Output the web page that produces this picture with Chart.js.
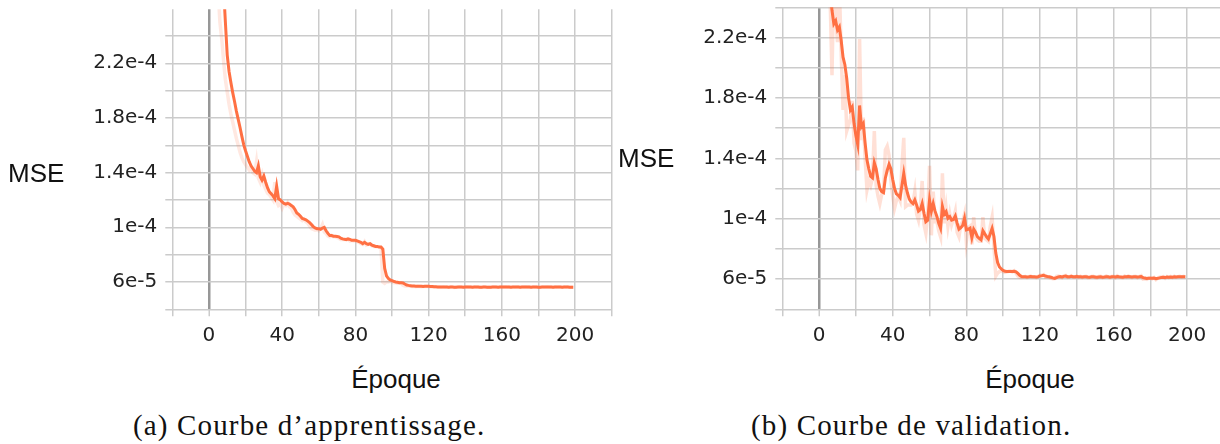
<!DOCTYPE html>
<html>
<head>
<meta charset="utf-8">
<script src="https://cdn.jsdelivr.net/npm/chart.js@4.4.1/dist/chart.umd.min.js"></script>
<style>
  html, body { margin: 0; padding: 0; background: #fff; }
  body { width: 1220px; height: 444px; overflow: hidden; position: relative; }
  .box { position: absolute; top: 0; height: 350px; }
  .lbl { position: absolute; font-family: "Liberation Sans", Arial, sans-serif; font-size: 26px; line-height: 26px; color: #111; white-space: nowrap; }
  .cap { position: absolute; font-family: "Liberation Serif", "Times New Roman", serif; font-size: 29px; line-height: 29px; color: #111; white-space: nowrap; letter-spacing: 1.15px; }
</style>
</head>
<body>
<div class="box" style="left:0;width:616px"><canvas id="trainChart"></canvas></div>
<div class="box" style="left:610px;width:620px"><canvas id="valChart"></canvas></div>

<div class="lbl" style="left:8px;top:160px">MSE</div>
<div class="lbl" style="left:618px;top:145px">MSE</div>
<div class="lbl" style="left:296px;top:366px;width:200px;text-align:center">Époque</div>
<div class="lbl" style="left:930px;top:366px;width:200px;text-align:center">Époque</div>
<div class="cap" style="left:133px;top:411px">(a) Courbe d’apprentissage.</div>
<div class="cap" style="left:751px;top:411px">(b) Courbe de validation.</div>

<script>
// ---- categories (epochs) ----
const epochs = [
  0,1,2,3,4,5,6,7,8,9,10,11,12,13,14,15,16,17,18,19,
  20,21,22,23,24,25,26,27,28,29,30,31,32,33,34,35,36,37,38,39,
  40,41,42,43,44,45,46,47,48,49,50,51,52,53,54,55,56,57,58,59,
  60,61,62,63,64,65,66,67,68,69,70,71,72,73,74,75,76,77,78,79,
  80,81,82,83,84,85,86,87,88,89,90,91,92,93,94,95,96,97,98,99,
  100,101,102,103,104,105,106,107,108,109,110,111,112,113,114,115,116,117,118,119,
  120,121,122,123,124,125,126,127,128,129,130,131,132,133,134,135,136,137,138,139,
  140,141,142,143,144,145,146,147,148,149,150,151,152,153,154,155,156,157,158,159,
  160,161,162,163,164,165,166,167,168,169,170,171,172,173,174,175,176,177,178,179,
  180,181,182,183,184,185,186,187,188,189,190,191,192,193,194,195,196,197,198,199
];

// ---- training MSE: smoothed and raw ----
const trainSmoothed = [
  95e-5,76e-5,63e-5,53e-5,45e-5,39e-5,34e-5,30.5e-5,27.5e-5,25e-5,
  22.6e-5,21.4e-5,20.6e-5,19.85e-5,19.2e-5,18.5e-5,17.9e-5,17.3e-5,16.65e-5,16.05e-5,
  15.6e-5,15.2e-5,14.8e-5,14.5e-5,14.3e-5,14.1e-5,14.0e-5,14.5e-5,13.7e-5,13.45e-5,
  13.75e-5,13.3e-5,12.9e-5,12.6e-5,12.45e-5,12.3e-5,12.1e-5,13.0e-5,12.1e-5,12.0e-5,
  11.85e-5,11.75e-5,11.7e-5,11.75e-5,11.7e-5,11.6e-5,11.5e-5,11.3e-5,11.05e-5,10.95e-5,
  10.8e-5,10.65e-5,10.6e-5,10.55e-5,10.45e-5,10.35e-5,10.2e-5,10.05e-5,9.95e-5,9.9e-5,
  9.9e-5,9.85e-5,9.95e-5,10.0e-5,9.75e-5,9.55e-5,9.4e-5,9.4e-5,9.35e-5,9.35e-5,
  9.33e-5,9.3e-5,9.2e-5,9.15e-5,9.12e-5,9.1e-5,9.15e-5,9.12e-5,9.05e-5,9.05e-5,
  9.05e-5,9.0e-5,8.95e-5,8.9e-5,8.8e-5,8.9e-5,8.8e-5,8.75e-5,8.8e-5,8.7e-5,
  8.65e-5,8.6e-5,8.6e-5,8.55e-5,8.55e-5,8.4e-5,7.0e-5,6.45e-5,6.25e-5,6.15e-5,
  6.1e-5,6.05e-5,6.0e-5,5.98e-5,5.95e-5,5.94e-5,5.93e-5,5.85e-5,5.78e-5,5.75e-5,
  5.73e-5,5.71e-5,5.7e-5,5.69e-5,5.69e-5,5.68e-5,5.68e-5,5.67e-5,5.68e-5,5.68e-5,
  5.68e-5,5.67e-5,5.66e-5,5.65e-5,5.65e-5,5.64e-5,5.64e-5,5.64e-5,5.63e-5,5.63e-5,
  5.63e-5,5.62e-5,5.63e-5,5.63e-5,5.62e-5,5.62e-5,5.63e-5,5.63e-5,5.63e-5,5.62e-5,
  5.63e-5,5.64e-5,5.63e-5,5.63e-5,5.62e-5,5.63e-5,5.63e-5,5.63e-5,5.62e-5,5.62e-5,
  5.63e-5,5.63e-5,5.62e-5,5.62e-5,5.62e-5,5.63e-5,5.63e-5,5.63e-5,5.62e-5,5.63e-5,
  5.63e-5,5.63e-5,5.64e-5,5.63e-5,5.63e-5,5.62e-5,5.63e-5,5.63e-5,5.63e-5,5.63e-5,
  5.62e-5,5.63e-5,5.63e-5,5.64e-5,5.63e-5,5.63e-5,5.62e-5,5.63e-5,5.63e-5,5.63e-5,
  5.62e-5,5.62e-5,5.63e-5,5.63e-5,5.63e-5,5.64e-5,5.63e-5,5.63e-5,5.62e-5,5.63e-5,
  5.63e-5,5.63e-5,5.63e-5,5.62e-5,5.63e-5,5.63e-5,5.63e-5,5.62e-5,5.62e-5,5.62e-5
];
const trainRaw = [
  80e-5,60e-5,48e-5,39e-5,33e-5,27.5e-5,25e-5,23.8e-5,22.2e-5,20.8e-5,
  19.9e-5,19.0e-5,18.3e-5,17.7e-5,17.1e-5,16.5e-5,16.0e-5,15.5e-5,15.1e-5,14.8e-5,
  14.6e-5,14.4e-5,14.2e-5,14.4e-5,14.0e-5,13.9e-5,14.8e-5,13.6e-5,13.3e-5,13.8e-5,
  13.1e-5,12.8e-5,12.5e-5,12.4e-5,12.2e-5,12.0e-5,13.3e-5,11.9e-5,11.6e-5,11.7e-5,
  11.4e-5,11.7e-5,11.6e-5,11.8e-5,11.5e-5,11.4e-5,11.1e-5,10.9e-5,10.8e-5,10.7e-5,
  10.6e-5,10.5e-5,10.6e-5,10.4e-5,10.3e-5,10.1e-5,9.9e-5,9.85e-5,9.8e-5,9.85e-5,
  9.75e-5,9.9e-5,10.2e-5,9.65e-5,9.55e-5,9.35e-5,9.3e-5,9.4e-5,9.3e-5,9.3e-5,
  9.25e-5,9.2e-5,9.1e-5,9.1e-5,9.1e-5,9.15e-5,9.1e-5,9.0e-5,9.05e-5,9.0e-5,
  9.0e-5,8.95e-5,8.9e-5,8.8e-5,8.75e-5,8.95e-5,8.7e-5,8.75e-5,8.8e-5,8.65e-5,
  8.6e-5,8.6e-5,8.55e-5,8.55e-5,8.5e-5,6.0e-5,5.9e-5,6.0e-5,6.0e-5,6.05e-5,
  6.0e-5,5.95e-5,5.95e-5,5.9e-5,5.92e-5,5.9e-5,5.75e-5,5.7e-5,5.7e-5,5.7e-5,
  5.68e-5,5.67e-5,5.69e-5,5.66e-5,5.68e-5,5.67e-5,5.66e-5,5.69e-5,5.67e-5,5.66e-5,
  5.66e-5,5.65e-5,5.64e-5,5.65e-5,5.63e-5,5.64e-5,5.63e-5,5.62e-5,5.64e-5,5.62e-5,
  5.63e-5,5.61e-5,5.64e-5,5.63e-5,5.60e-5,5.63e-5,5.62e-5,5.65e-5,5.62e-5,5.61e-5,
  5.64e-5,5.65e-5,5.62e-5,5.63e-5,5.61e-5,5.64e-5,5.62e-5,5.63e-5,5.61e-5,5.62e-5,
  5.64e-5,5.62e-5,5.61e-5,5.63e-5,5.61e-5,5.64e-5,5.63e-5,5.62e-5,5.61e-5,5.64e-5,
  5.62e-5,5.64e-5,5.65e-5,5.62e-5,5.63e-5,5.61e-5,5.64e-5,5.62e-5,5.63e-5,5.64e-5,
  5.61e-5,5.63e-5,5.64e-5,5.65e-5,5.62e-5,5.63e-5,5.61e-5,5.64e-5,5.62e-5,5.63e-5,
  5.61e-5,5.62e-5,5.64e-5,5.62e-5,5.64e-5,5.65e-5,5.62e-5,5.63e-5,5.61e-5,5.64e-5,
  5.62e-5,5.64e-5,5.63e-5,5.61e-5,5.64e-5,5.62e-5,5.64e-5,5.61e-5,5.63e-5,5.62e-5
];

// ---- validation MSE: smoothed and raw ----
const valSmoothed = [
  42e-5,38e-5,34e-5,31e-5,28.5e-5,26.5e-5,25e-5,23.8e-5,22.9e-5,23.1e-5,
  22.5e-5,22.7e-5,21.8e-5,20.7e-5,20.2e-5,19.3e-5,18.0e-5,17.2e-5,17.4e-5,16.3e-5,
  15.5e-5,14.9e-5,17.5e-5,16.1e-5,16.3e-5,15.0e-5,13.9e-5,13.3e-5,12.8e-5,12.7e-5,
  13.7e-5,13.3e-5,12.6e-5,12.0e-5,11.8e-5,11.73e-5,12.7e-5,13.2e-5,13.6e-5,13.3e-5,
  12.6e-5,12.0e-5,11.65e-5,11.55e-5,11.4e-5,12.2e-5,13.0e-5,12.2e-5,11.7e-5,11.3e-5,
  11.1e-5,11.0e-5,11.25e-5,10.9e-5,10.5e-5,10.6e-5,11.0e-5,10.36e-5,9.8e-5,9.9e-5,
  11.24e-5,10.5e-5,11.0e-5,10.5e-5,10.15e-5,9.7e-5,9.37e-5,10.8e-5,10.3e-5,10.47e-5,
  10.03e-5,10.14e-5,9.9e-5,9.95e-5,10.18e-5,9.7e-5,9.3e-5,9.4e-5,9.55e-5,10.03e-5,
  9.26e-5,9.3e-5,9.37e-5,8.75e-5,9.3e-5,9.1e-5,8.82e-5,8.7e-5,8.6e-5,9.2e-5,
  9.0e-5,8.8e-5,8.65e-5,9.0e-5,9.35e-5,8.82e-5,7.72e-5,7.1e-5,6.8e-5,6.67e-5,
  6.58e-5,6.52e-5,6.5e-5,6.5e-5,6.51e-5,6.5e-5,6.52e-5,6.48e-5,6.38e-5,6.25e-5,
  6.17e-5,6.15e-5,6.16e-5,6.14e-5,6.15e-5,6.17e-5,6.16e-5,6.15e-5,6.14e-5,6.16e-5,
  6.2e-5,6.22e-5,6.25e-5,6.2e-5,6.17e-5,6.15e-5,6.12e-5,6.08e-5,6.05e-5,6.1e-5,
  6.15e-5,6.17e-5,6.14e-5,6.18e-5,6.2e-5,6.16e-5,6.15e-5,6.18e-5,6.16e-5,6.15e-5,
  6.17e-5,6.15e-5,6.16e-5,6.14e-5,6.15e-5,6.16e-5,6.14e-5,6.13e-5,6.15e-5,6.16e-5,
  6.14e-5,6.12e-5,6.14e-5,6.15e-5,6.13e-5,6.14e-5,6.16e-5,6.15e-5,6.13e-5,6.15e-5,
  6.16e-5,6.14e-5,6.17e-5,6.15e-5,6.14e-5,6.13e-5,6.16e-5,6.15e-5,6.17e-5,6.16e-5,
  6.14e-5,6.15e-5,6.16e-5,6.14e-5,6.15e-5,6.17e-5,6.1e-5,6.07e-5,6.04e-5,6.05e-5,
  6.06e-5,6.05e-5,6.07e-5,6.03e-5,6.05e-5,6.08e-5,6.1e-5,6.12e-5,6.1e-5,6.13e-5,
  6.12e-5,6.14e-5,6.13e-5,6.15e-5,6.14e-5,6.15e-5,6.16e-5,6.15e-5,6.16e-5,6.16e-5
];
const valRaw = [
  50e-5,40e-5,36e-5,30e-5,28e-5,26e-5,24.5e-5,19.5e-5,26e-5,23.4e-5,
  21.7e-5,25.5e-5,21.0e-5,17.2e-5,19.5e-5,15.8e-5,16.2e-5,16.6e-5,17.8e-5,15.0e-5,
  14.5e-5,13.2e-5,21.9e-5,15.2e-5,16.7e-5,14.0e-5,11.9e-5,12.5e-5,12.2e-5,12.7e-5,
  15.8e-5,12.2e-5,11.5e-5,11.0e-5,11.6e-5,11.8e-5,14.55e-5,14.8e-5,14.2e-5,12.5e-5,
  11.5e-5,10.7e-5,11.2e-5,11.5e-5,11.2e-5,13.5e-5,15.36e-5,10.8e-5,10.9e-5,10.9e-5,
  10.9e-5,11.0e-5,11.8e-5,10.3e-5,9.9e-5,10.8e-5,12.5e-5,9.6e-5,9.04e-5,10.2e-5,
  13.5e-5,8.9e-5,11.8e-5,9.8e-5,9.8e-5,9.2e-5,8.8e-5,13.0e-5,9.7e-5,10.7e-5,
  9.5e-5,10.3e-5,9.6e-5,10.0e-5,10.5e-5,9.1e-5,8.8e-5,9.6e-5,9.8e-5,10.3e-5,
  8.5e-5,9.4e-5,9.5e-5,8.3e-5,10.1e-5,8.8e-5,8.6e-5,8.5e-5,8.5e-5,10.1e-5,
  8.7e-5,8.6e-5,8.5e-5,9.5e-5,10.1e-5,8.2e-5,6.2e-5,6.4e-5,6.5e-5,6.55e-5,
  6.5e-5,6.45e-5,6.48e-5,6.52e-5,6.53e-5,6.48e-5,6.55e-5,6.4e-5,6.2e-5,6.12e-5,
  6.1e-5,6.13e-5,6.18e-5,6.1e-5,6.16e-5,6.2e-5,6.14e-5,6.13e-5,6.1e-5,6.18e-5,
  6.26e-5,6.25e-5,6.3e-5,6.12e-5,6.12e-5,6.1e-5,6.06e-5,6.02e-5,6.03e-5,6.18e-5,
  6.2e-5,6.16e-5,6.1e-5,6.22e-5,6.24e-5,6.12e-5,6.14e-5,6.22e-5,6.13e-5,6.12e-5,
  6.2e-5,6.12e-5,6.18e-5,6.1e-5,6.16e-5,6.18e-5,6.1e-5,6.11e-5,6.18e-5,6.19e-5,
  6.1e-5,6.08e-5,6.17e-5,6.18e-5,6.1e-5,6.14e-5,6.2e-5,6.13e-5,6.1e-5,6.18e-5,
  6.19e-5,6.1e-5,6.22e-5,6.13e-5,6.12e-5,6.1e-5,6.2e-5,6.13e-5,6.21e-5,6.15e-5,
  6.1e-5,6.17e-5,6.19e-5,6.1e-5,6.16e-5,6.22e-5,6.0e-5,6.02e-5,5.98e-5,6.07e-5,
  6.08e-5,6.02e-5,6.1e-5,5.97e-5,6.06e-5,6.12e-5,6.14e-5,6.16e-5,6.06e-5,6.17e-5,
  6.1e-5,6.17e-5,6.11e-5,6.19e-5,6.12e-5,6.16e-5,6.18e-5,6.13e-5,6.18e-5,6.15e-5
];

// ---- tick labels ----
const xTickValues = [0, 40, 80, 120, 160, 200];
const xTickLabels = ['0', '40', '80', '120', '160', '200'];
const yTickValues = [6e-5, 1e-4, 1.4e-4, 1.8e-4, 2.2e-4];
const yTickLabels = ['6e-5', '1e-4', '1.4e-4', '1.8e-4', '2.2e-4'];

const ORANGE = '#ff7043';
const GRID = '#cbcbcb';
const ZERO = '#979797';
const TICKFONT = { family: '"DejaVu Sans", sans-serif', size: 20 };

function labelFor(value, values, labels) {
  for (let i = 0; i < values.length; i++) {
    if (Math.abs(value - values[i]) < Math.abs(values[i]) * 1e-6 + 1e-12) return labels[i];
  }
  return '';
}

function makeChart(id, smoothed, raw, rawColor, yMax, padTop, padRight) {
  return new Chart(document.getElementById(id), {
    type: 'line',
    data: {
      labels: epochs,
      datasets: [
        { data: smoothed, borderColor: ORANGE, borderWidth: 3, pointRadius: 0, tension: 0, fill: false },
        { data: raw, borderColor: rawColor, borderWidth: 3.5, pointRadius: 0, tension: 0, fill: false }
      ]
    },
    options: {
      responsive: true,
      maintainAspectRatio: false,
      animation: false,
      events: [],
      layout: { padding: { left: 0, right: padRight, top: padTop, bottom: 0 } },
      plugins: { legend: { display: false }, tooltip: { enabled: false } },
      scales: {
        x: {
          type: 'linear',
          min: -20, max: 220,
          border: { display: false },
          grid: {
            color: (c) => (c.tick && c.tick.value === 0) ? ZERO : GRID,
            lineWidth: (c) => (c.tick && c.tick.value === 0) ? 2.5 : 1.5,
            tickColor: GRID,
            tickWidth: 1.5,
            tickLength: 7,
            drawTicks: true
          },
          ticks: {
            stepSize: 20,
            autoSkip: false,
            maxRotation: 0,
            padding: 7,
            color: '#222',
            font: TICKFONT,
            callback: (v) => labelFor(v, xTickValues, xTickLabels)
          },
          afterFit: (s) => { s.height = 350 - 309.3; s.paddingLeft = 0; s.paddingRight = 0; }
        },
        y: {
          type: 'linear',
          min: 4e-5, max: yMax,
          border: { display: false },
          grid: { color: GRID, lineWidth: 1.5, tickLength: 7, drawTicks: true },
          ticks: {
            stepSize: 2e-5,
            includeBounds: false,
            autoSkip: false,
            padding: 8,
            color: '#222',
            font: TICKFONT,
            callback: (v) => labelFor(v, yTickValues, yTickLabels)
          },
          afterFit: (s) => { s.width = 172.3; s.paddingTop = 0; s.paddingBottom = 0; }
        }
      }
    }
  });
}

makeChart('trainChart', trainSmoothed, trainRaw, 'rgba(255,112,67,0.16)', 2.595e-4, 9.3, 4.3);
makeChart('valChart', valSmoothed, valRaw, 'rgba(255,112,67,0.22)', 2.4e-4, 7.3, 6);
</script>
</body>
</html>
